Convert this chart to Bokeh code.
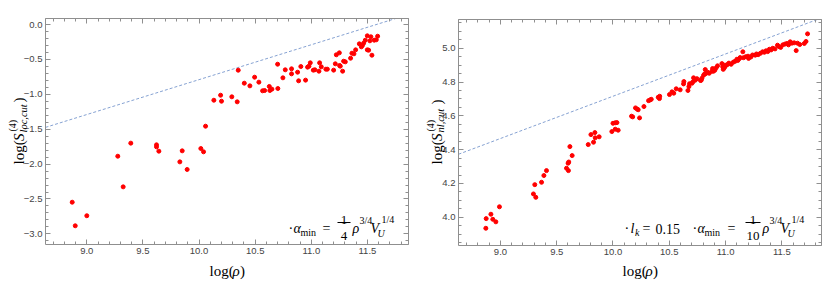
import numpy as np
from bokeh.plotting import figure
from bokeh.layouts import row
from bokeh.models import Range1d, LinearAxis, FixedTicker, Label, BoxAnnotation
from bokeh.embed import file_html
from bokeh.resources import INLINE

# ---------------- data: left panel (S_loc,cut) ----------------
loc_x = [8.870, 8.897, 9.000, 9.276, 9.324, 9.392, 9.621, 9.621, 9.642, 9.829,
         9.850, 9.894, 10.016, 10.040, 10.058,
         10.132, 10.192, 10.200, 10.292, 10.340, 10.349, 10.403, 10.453, 10.495, 10.533,
         10.566, 10.584, 10.626, 10.631, 10.649, 10.700, 10.702, 10.747, 10.768, 10.824,
         10.824, 10.878, 10.887, 10.907, 10.949, 10.967, 10.979, 10.991, 11.018, 11.032,
         11.068, 11.074, 11.089, 11.130, 11.143, 11.199, 11.214, 11.223, 11.250, 11.252,
         11.258, 11.279, 11.288, 11.303, 11.350, 11.362, 11.380, 11.395, 11.428, 11.446,
         11.455, 11.466, 11.481, 11.499, 11.499, 11.511, 11.522, 11.531, 11.540, 11.561,
         11.579, 11.591]
loc_y = [-2.546, -2.884, -2.740, -1.887, -2.326, -1.700, -1.724, -1.753, -1.815, -1.968,
         -1.810, -2.077, -1.777, -1.824, -1.457,
         -1.085, -1.013, -1.099, -1.036, -1.108, -0.655, -0.841, -0.879, -0.755, -0.826,
         -0.950, -0.946, -0.888, -0.946, -0.926, -0.569, -0.917, -0.764, -0.649, -0.635,
         -0.707, -0.683, -0.807, -0.602, -0.797, -0.611, -0.597, -0.549, -0.654, -0.649,
         -0.669, -0.549, -0.606, -0.640, -0.640, -0.654, -0.563, -0.434, -0.406, -0.587,
         -0.597, -0.669, -0.526, -0.535, -0.483, -0.411, -0.420, -0.363, -0.277, -0.320,
         -0.301, -0.268, -0.225, -0.162, -0.363, -0.368, -0.234, -0.176, -0.440, -0.225,
         -0.219, -0.168]

# ---------------- data: right panel (S_nl,cut) ----------------
nl_x = [8.870, 8.873, 8.915, 8.932, 8.959, 8.991,
        9.293, 9.314, 9.305, 9.365, 9.386, 9.409,
        9.587, 9.604, 9.601, 9.607, 9.617, 9.637,
        9.780, 9.804, 9.827, 9.839, 9.842, 9.877,
        9.990, 10.000, 10.020, 10.035, 10.020, 10.046,
        10.165, 10.175, 10.236, 10.200, 10.215, 10.224, 10.275, 10.316, 10.330, 10.340,
        10.402, 10.413, 10.415, 10.502, 10.524, 10.540, 10.562, 10.597, 10.627, 10.630,
        10.666, 10.675, 10.680,
        10.702, 10.710, 10.716, 10.731, 10.746, 10.778, 10.784, 10.790, 10.805, 10.814,
        10.825, 10.820, 10.840, 10.855, 10.879, 10.885, 10.893, 10.905, 10.917, 10.929,
        10.968, 10.975, 10.980, 10.990, 10.995,
        11.000, 11.018, 11.030, 11.050, 11.070, 11.086, 11.101, 11.110, 11.124, 11.130,
        11.154, 11.160, 11.180, 11.200, 11.205, 11.225, 11.240, 11.264, 11.275, 11.290,
        11.310, 11.330, 11.345, 11.360, 11.375, 11.390, 11.405, 11.420, 11.440, 11.462,
        11.475, 11.490, 11.510, 11.530, 11.546, 11.560, 11.575, 11.590, 11.610, 11.628,
        11.640, 11.660, 11.700, 11.715, 11.729]
nl_y = [3.935, 3.992, 4.018, 3.988, 3.973, 4.062,
        4.138, 4.118, 4.193, 4.207, 4.247, 4.276,
        4.290, 4.276, 4.320, 4.327, 4.418, 4.365,
        4.430, 4.489, 4.444, 4.501, 4.470, 4.476,
        4.507, 4.556, 4.559, 4.560, 4.521, 4.515,
        4.598, 4.594, 4.588, 4.647, 4.640, 4.636, 4.655, 4.690, 4.694, 4.698,
        4.710, 4.702, 4.716, 4.726, 4.742, 4.734, 4.760, 4.754, 4.789, 4.803,
        4.750, 4.773, 4.790,
        4.793, 4.801, 4.825, 4.811, 4.820, 4.809, 4.811, 4.822, 4.840, 4.848,
        4.850, 4.874, 4.858, 4.852, 4.864, 4.880, 4.864, 4.870, 4.884, 4.896,
        4.909, 4.890, 4.875, 4.885, 4.900,
        4.895, 4.904, 4.912, 4.905, 4.918, 4.923, 4.935, 4.928, 4.939, 4.945,
        4.979, 4.944, 4.950, 4.953, 4.940, 4.948, 4.960, 4.959, 4.966, 4.962,
        4.970, 4.979, 4.976, 4.985, 4.980, 4.994, 4.990, 5.000, 4.996, 5.018,
        5.010, 5.005, 5.020, 5.025, 5.028, 5.020, 5.038, 5.030, 5.032, 4.986,
        5.030, 5.022, 5.028, 5.040, 5.085]

# reference (dashed) lines: gradient and intercept
loc_slope, loc_intercept = 0.5, -5.79
nl_slope, nl_intercept = 0.25, 2.216

# ticks and tick labels
x_ticks = [9.0, 9.5, 10.0, 10.5, 11.0, 11.5]
x_tick_labels = ["9.0", "9.5", "10.0", "10.5", "11.0", "11.5"]
loc_y_ticks = [-3.0, -2.5, -2.0, -1.5, -1.0, -0.5, 0.0]
loc_y_tick_labels = ["\u22123.0", "\u22122.5", "\u22122.0", "\u22121.5", "\u22121.0", "\u22120.5", "0.0"]
nl_y_ticks = [4.0, 4.2, 4.4, 4.6, 4.8, 5.0]
nl_y_tick_labels = ["4.0", "4.2", "4.4", "4.6", "4.8", "5.0"]

x_minor = [round(v, 2) for v in np.arange(8.7, 11.86, 0.1)]
loc_y_minor = [round(v, 2) for v in np.arange(-3.1, 0.06, 0.1)]
nl_y_minor = [round(v, 3) for v in np.arange(3.85, 5.16, 0.05)]

FRAME_COL = "#8f8f8f"
TICK_LAB_COL = "#444444"
SERIF = "Liberation Serif"
SANS = "Liberation Sans"
LINE_COL = "#86a2d2"
PT_COL = "#ff0000"
A = np.pi / 2


class Panel:
    """A figure whose frame fills the whole canvas; the plot box sits inside it."""

    def __init__(self, fig_box, plot_box, xr, yr, yt, ylabs, yminor):
        fx0, fy0, W, H = fig_box
        bx0, by0, bx1, by1 = plot_box
        self.fx0, self.fy0 = fx0, fy0
        self.sx = (xr[1] - xr[0]) / (bx1 - bx0)
        self.sy = (yr[1] - yr[0]) / (by1 - by0)
        X0 = xr[0] - (bx0 - fx0) * self.sx
        X1 = xr[1] + (fx0 + W - bx1) * self.sx
        Y1 = yr[1] + (by0 - fy0) * self.sy
        Y0 = yr[0] - (fy0 + H - by1) * self.sy
        self.X0, self.Y1 = X0, Y1
        self.xr, self.yr = xr, yr
        p = figure(width=W, height=H, x_range=Range1d(X0, X1), y_range=Range1d(Y0, Y1),
                   output_backend="svg", toolbar_location=None,
                   x_axis_location=None, y_axis_location=None,
                   min_border=0, background_fill_color="white",
                   border_fill_color="white")
        p.grid.visible = False
        p.outline_line_color = None
        self.p = p

        # labelled axes (bottom, left) fixed at the plot box edges
        bx = LinearAxis(ticker=FixedTicker(ticks=x_ticks, minor_ticks=x_minor),
                        fixed_location=yr[0], bounds=xr)
        bx.major_label_overrides = dict(zip(x_ticks, x_tick_labels))
        ly = LinearAxis(ticker=FixedTicker(ticks=yt, minor_ticks=yminor),
                        fixed_location=xr[0], bounds=yr)
        ly.major_label_overrides = dict(zip(yt, ylabs))
        for ax, side in ((bx, "below"), (ly, "left")):
            self._style(ax, 5, 3)
            ax.major_label_text_font = SANS
            ax.major_label_text_font_size = "9.5px"
            ax.major_label_text_color = TICK_LAB_COL
            ax.major_label_standoff = 3
            p.add_layout(ax, side)

        # mirrored tick marks (no labels) on top and right
        for ticks, ln in ((x_ticks, 5), (x_minor, 3)):
            ax = LinearAxis(ticker=FixedTicker(ticks=[], minor_ticks=ticks),
                            fixed_location=yr[1], bounds=xr)
            self._style(ax, 0, ln)
            p.add_layout(ax, "above")
        for ticks, ln in ((yt, 5), (yminor, 3)):
            ax = LinearAxis(ticker=FixedTicker(ticks=[], minor_ticks=ticks),
                            fixed_location=xr[1], bounds=yr)
            self._style(ax, 0, ln)
            p.add_layout(ax, "right")

    @staticmethod
    def _style(ax, major_in, minor_in):
        ax.axis_line_color = FRAME_COL
        ax.major_tick_line_color = FRAME_COL
        ax.minor_tick_line_color = FRAME_COL
        ax.major_tick_in = major_in
        ax.major_tick_out = 0
        ax.minor_tick_in = minor_in
        ax.minor_tick_out = 0

    def dx(self, px):
        return self.X0 + (px - self.fx0) * self.sx

    def dy(self, py):
        return self.Y1 - (py - self.fy0) * self.sy

    def ref_line(self, m, b):
        x0, x1 = self.xr
        x_end = min(x1, (self.yr[1] - b) / m)
        xs = [x0, x_end]
        self.p.line(xs, [m * v + b for v in xs], line_color=LINE_COL,
                    line_width=1, line_dash="3 2")

    def text(self, text, px, py, size, italic=False, angle=0.0, align="left"):
        self.p.add_layout(Label(x=self.dx(px), y=self.dy(py), text=text,
                                text_font=SERIF, text_font_size=f"{size}px",
                                text_font_style="italic" if italic else "normal",
                                text_color="black", text_align=align,
                                text_baseline="alphabetic", angle=angle))

    def bar(self, px0, px1, py):
        self.p.add_layout(BoxAnnotation(left=self.dx(px0), right=self.dx(px1),
                                        top=self.dy(py - 0.5), bottom=self.dy(py + 0.5),
                                        fill_color="black", fill_alpha=1.0,
                                        line_alpha=0))


# ---------------- left panel ----------------
L = Panel((0, 0, 415, 283), (45, 18, 408, 244), (8.632, 11.866), (-3.152, 0.086),
          loc_y_ticks, loc_y_tick_labels, loc_y_minor)
L.ref_line(loc_slope, loc_intercept)
L.p.scatter(loc_x, loc_y, size=4, color=PT_COL)

L.text("log(", 18.5, 164, 15, angle=A)
L.text("S", 18.5, 140.5, 15, italic=True, angle=A)
L.text("(4)", 12, 131, 10, angle=A)
L.text("loc,cut", 22.5, 132, 10.5, italic=True, angle=A)
L.text(")", 18.5, 102, 15, angle=A)
L.text("log(", 209, 270.5, 15)
L.text("\u03c1", 232, 270.5, 15, italic=True)
L.text(")", 239.5, 270.5, 15)
L.text("\u00b7", 288, 228, 14)
L.text("\u03b1", 293, 228, 14, italic=True)
L.text("min", 300, 232, 10)
L.text("=", 322, 228, 14)
L.text("1", 343.5, 219, 13, align="center")
L.bar(337, 350, 222)
L.text("4", 343.5, 235, 13, align="center")
L.text("\u03c1", 352, 228, 14, italic=True)
L.text("3/4", 359, 220, 10)
L.text("V", 370, 228, 14, italic=True)
L.text("U", 377, 232.5, 10, italic=True)
L.text("1/4", 381, 219, 10)

# ---------------- right panel ----------------
R = Panel((415, 0, 416, 283), (458, 19, 821, 245), (8.627, 11.853), (3.833, 5.170),
          nl_y_ticks, nl_y_tick_labels, nl_y_minor)
R.ref_line(nl_slope, nl_intercept)
R.p.scatter(nl_x, nl_y, size=4, color=PT_COL)

R.text("log(", 436, 164, 15, angle=A)
R.text("S", 436, 140.5, 15, italic=True, angle=A)
R.text("(4)", 429.5, 131, 10, angle=A)
R.text("nl,cut", 440, 132, 10.5, italic=True, angle=A)
R.text(")", 436, 104, 15, angle=A)
R.text("log(", 622, 270.5, 15)
R.text("\u03c1", 645, 270.5, 15, italic=True)
R.text(")", 652.5, 270.5, 15)
R.text("\u00b7", 624, 228, 14)
R.text("l", 630, 228, 14, italic=True)
R.text("k", 634.5, 232, 10, italic=True)
R.text("=", 642, 228, 14)
R.text("0.15", 655, 228, 14)
R.text("\u00b7", 692, 228, 14)
R.text("\u03b1", 697, 228, 14, italic=True)
R.text("min", 704, 232, 10)
R.text("=", 727, 228, 14)
R.text("1", 752.5, 219, 13, align="center")
R.bar(745, 760, 222)
R.text("10", 752.5, 235, 13, align="center")
R.text("\u03c1", 762, 228, 14, italic=True)
R.text("3/4", 769, 220, 10)
R.text("V", 780, 228, 14, italic=True)
R.text("U", 787, 232.5, 10, italic=True)
R.text("1/4", 791, 219, 10)

layout = row(L.p, R.p, spacing=0)
open("out.html", "w").write(file_html(layout, INLINE))
